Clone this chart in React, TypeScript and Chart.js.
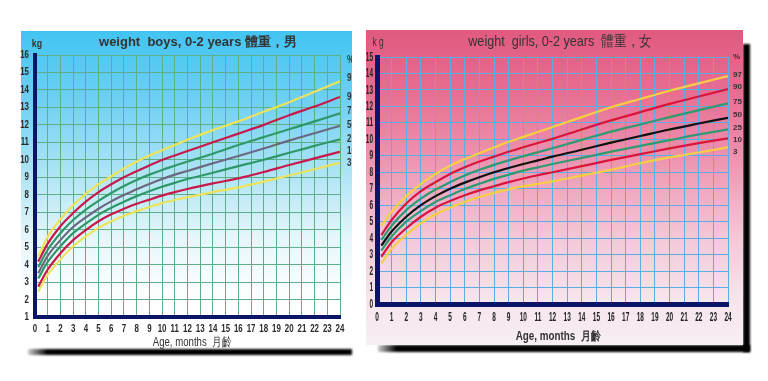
import React, { useEffect, useRef } from "react";
import { Chart, registerables } from "chart.js";

Chart.register(...registerables);

// ---------------- DATA ----------------
const percentileLabels = ["97", "90", "75", "50", "25", "10", "3"];

const boysMonths = [0.25, 1, 2, 3, 4, 5, 6, 7, 8, 9, 10, 11, 12, 14, 16, 18, 20, 22, 24];
const boysP97 = [4.45, 5.6, 6.6, 7.4, 8.05, 8.6, 9.05, 9.5, 9.9, 10.25, 10.55, 10.85, 11.15, 11.7, 12.2, 12.75, 13.3, 13.9, 14.5];
const boysP90 = [4.17, 5.2, 6.2, 6.95, 7.6, 8.15, 8.6, 9.0, 9.35, 9.68, 9.99, 10.25, 10.5, 11.0, 11.5, 12.0, 12.55, 13.05, 13.6];
const boysP75 = [3.85, 4.85, 5.8, 6.55, 7.15, 7.65, 8.1, 8.5, 8.85, 9.15, 9.42, 9.66, 9.9, 10.35, 10.85, 11.3, 11.75, 12.2, 12.66];
const boysP50 = [3.5, 4.5, 5.4, 6.15, 6.7, 7.2, 7.62, 7.98, 8.32, 8.62, 8.9, 9.15, 9.36, 9.8, 10.22, 10.65, 11.1, 11.52, 11.95];
const boysP25 = [3.2, 4.15, 5.05, 5.8, 6.35, 6.85, 7.25, 7.6, 7.92, 8.2, 8.46, 8.68, 8.9, 9.26, 9.64, 10.0, 10.4, 10.8, 11.17];
const boysP10 = [2.74, 3.72, 4.65, 5.4, 5.98, 6.48, 6.88, 7.2, 7.48, 7.72, 7.95, 8.15, 8.33, 8.65, 8.94, 9.3, 9.7, 10.08, 10.46];
const boysP3 = [2.45, 3.42, 4.3, 5.05, 5.62, 6.1, 6.48, 6.8, 7.06, 7.3, 7.52, 7.7, 7.86, 8.15, 8.42, 8.75, 9.1, 9.46, 9.83];

const girlsMonths = [0.3, 1, 2, 3, 4, 5, 6, 7, 8, 9, 10, 11, 12, 14, 16, 18, 20, 22, 24];
const girlsP97 = [4.75, 5.6, 6.55, 7.3, 7.9, 8.4, 8.8, 9.15, 9.5, 9.85, 10.15, 10.45, 10.75, 11.35, 11.95, 12.45, 12.95, 13.4, 13.84];
const girlsP90 = [4.19, 5.1, 6.1, 6.85, 7.4, 7.9, 8.3, 8.65, 8.95, 9.25, 9.52, 9.78, 10.03, 10.6, 11.15, 11.65, 12.15, 12.6, 13.05];
const girlsP75 = [3.89, 4.75, 5.7, 6.4, 6.95, 7.4, 7.8, 8.15, 8.45, 8.72, 8.97, 9.22, 9.46, 9.97, 10.47, 10.9, 11.35, 11.77, 12.18];
const girlsP50 = [3.55, 4.4, 5.3, 6.0, 6.55, 7.0, 7.37, 7.7, 8.0, 8.26, 8.5, 8.72, 8.95, 9.37, 9.8, 10.2, 10.6, 10.96, 11.31];
const girlsP25 = [3.25, 4.1, 5.0, 5.65, 6.2, 6.6, 6.98, 7.3, 7.6, 7.85, 8.1, 8.3, 8.5, 8.87, 9.25, 9.6, 9.95, 10.3, 10.6];
const girlsP10 = [2.87, 3.75, 4.6, 5.3, 5.85, 6.25, 6.6, 6.9, 7.15, 7.4, 7.62, 7.82, 8.0, 8.37, 8.75, 9.1, 9.45, 9.77, 10.06];
const girlsP3 = [2.47, 3.35, 4.2, 4.9, 5.45, 5.85, 6.2, 6.5, 6.75, 6.96, 7.15, 7.3, 7.45, 7.8, 8.15, 8.55, 8.9, 9.2, 9.51];

const boysYTicks = { min: 1, max: 16 };
const girlsYTicks = { min: 0, max: 15 };
const monthTicks = { min: 0, max: 24 };

// ---------------- STYLE ----------------
const SANS = "'Liberation Sans', Arial, sans-serif";
const NAVY = "#0b1466";

type TextSpec = { text: string; font: string; sx: number; x: number; y: number };

type Cfg = {
  months: number[];
  series: number[][];
  colors: string[];
  yRange: { min: number; max: number };
  gridColor: string;
  width: number;
  height: number;
  padTop: number;
  yAxisW: number;
  xAxisH: number;
  padRight: number;
  borderW: number;
  lineW: number;
  tickFont: string;
  tickSx: number;
  tickGapY: number;
  tickGapX: number;
  tickColor: string;
  texts: TextSpec[];
  pctX: number;
  pctFont: string;
  pctSx: number;
  pctOffset: number[];
};

function drawText(ctx: any, text: string, x: number, y: number, font: string, sx: number, align: string) {
  ctx.save();
  ctx.translate(x, y);
  ctx.scale(sx, 1);
  ctx.font = font;
  ctx.textAlign = align;
  ctx.textBaseline = "middle";
  ctx.fillText(text, 0, 0);
  ctx.restore();
}

function GrowthChart({ cfg }: { cfg: Cfg }) {
  const ref = useRef<HTMLCanvasElement | null>(null);
  useEffect(() => {
    if (!ref.current) return;
    const textPlugin = {
      id: "extraText",
      afterDraw(chart: any) {
        const ctx = chart.ctx;
        const ca = chart.chartArea;
        ctx.save();
        ctx.fillStyle = cfg.tickColor;
        const xs = chart.scales.x;
        const ys = chart.scales.y;
        xs.ticks.forEach((t: any) => {
          drawText(ctx, String(t.value), xs.getPixelForValue(t.value), ca.bottom + cfg.tickGapX, cfg.tickFont, cfg.tickSx, "center");
        });
        ys.ticks.forEach((t: any) => {
          drawText(ctx, String(t.value), ca.left - cfg.tickGapY, ys.getPixelForValue(t.value), cfg.tickFont, cfg.tickSx, "right");
        });
        ctx.fillStyle = "#333";
        cfg.texts.forEach((t) => drawText(ctx, t.text, t.x, t.y, t.font, t.sx, "center"));
        let topY = Infinity;
        cfg.series.forEach((s, i) => {
          const py = ys.getPixelForValue(s[s.length - 1]) + (cfg.pctOffset[i] || 0);
          topY = Math.min(topY, py);
          drawText(ctx, percentileLabels[i], cfg.pctX, py, cfg.pctFont, cfg.pctSx, "left");
        });
        drawText(ctx, "%", cfg.pctX, topY - 18, cfg.pctFont, cfg.pctSx, "left");
        ctx.restore();
      },
    };
    const fixY = (scale: any) => {
      scale.width = cfg.yAxisW;
      scale.paddingTop = 0;
      scale.paddingBottom = 0;
      scale.paddingLeft = 0;
      scale.paddingRight = 0;
    };
    const fixX = (scale: any) => {
      scale.height = cfg.xAxisH;
      scale.paddingTop = 0;
      scale.paddingBottom = 0;
      scale.paddingLeft = 0;
      scale.paddingRight = 0;
    };
    const chart = new Chart(ref.current, {
      type: "line",
      data: {
        datasets: cfg.series.map((s, i) => ({
          label: percentileLabels[i],
          data: cfg.months.map((m, j) => ({ x: m, y: s[j] })),
          borderColor: cfg.colors[i],
          borderWidth: cfg.lineW,
          pointRadius: 0,
          fill: false,
          cubicInterpolationMode: "monotone" as const,
        })),
      },
      options: {
        animation: false,
        responsive: false,
        devicePixelRatio: 1,
        layout: {
          autoPadding: false,
          padding: { top: cfg.padTop, left: 0, right: cfg.padRight, bottom: 0 },
        },
        plugins: { legend: { display: false }, tooltip: { enabled: false }, title: { display: false } },
        scales: {
          x: {
            type: "linear",
            min: monthTicks.min,
            max: monthTicks.max,
            afterFit: fixX,
            grid: { color: cfg.gridColor, lineWidth: 1, drawTicks: false },
            border: { display: true, color: NAVY, width: cfg.borderW },
            ticks: { stepSize: 1, autoSkip: false, maxRotation: 0, display: false },
          },
          y: {
            type: "linear",
            min: cfg.yRange.min,
            max: cfg.yRange.max,
            afterFit: fixY,
            grid: { color: cfg.gridColor, lineWidth: 1, drawTicks: false },
            border: { display: true, color: NAVY, width: cfg.borderW },
            ticks: { stepSize: 1, autoSkip: false, display: false },
          },
        },
      },
      plugins: [textPlugin],
    } as any);
    return () => chart.destroy();
  }, [cfg]);
  return (
    <canvas
      ref={ref}
      width={cfg.width}
      height={cfg.height}
      style={{ width: cfg.width, height: cfg.height, display: "block" }}
    />
  );
}

const boysCfg: Cfg = {
  months: boysMonths,
  series: [boysP97, boysP90, boysP75, boysP50, boysP25, boysP10, boysP3],
  colors: ["#ece35a", "#c8184a", "#2f9868", "#6b6880", "#2f9868", "#c8184a", "#ece35a"],
  yRange: boysYTicks,
  gridColor: "#5fae8a",
  width: 338,
  height: 320,
  padTop: 24,
  yAxisW: 21,
  xAxisH: 34,
  padRight: 12,
  borderW: 4,
  lineW: 2.2,
  tickFont: "bold 11px " + SANS,
  tickSx: 0.72,
  tickGapY: 6,
  tickGapX: 12,
  tickColor: "#2a2a2a",
  texts: [
    { text: "weight  boys, 0-2 years 體重，男", font: "bold 13px " + SANS, sx: 1.0, x: 184, y: 11 },
    { text: "kg", font: "bold 11px " + SANS, sx: 0.8, x: 23, y: 13 },
    { text: "Age, months  月齡", font: "12px " + SANS, sx: 0.8, x: 178, y: 312 },
  ],
  pctX: 333,
  pctFont: "bold 10px " + SANS,
  pctSx: 0.8,
  pctOffset: [-3, 0, -2, 0, 0, -1, 0],
};

const girlsCfg: Cfg = {
  months: girlsMonths,
  series: [girlsP97, girlsP90, girlsP75, girlsP50, girlsP25, girlsP10, girlsP3],
  colors: ["#f7cf45", "#d8163c", "#2f9a72", "#111111", "#2f9a72", "#d8163c", "#f7cf45"],
  yRange: girlsYTicks,
  gridColor: "#5aaee2",
  width: 383,
  height: 315,
  padTop: 27,
  yAxisW: 17,
  xAxisH: 41,
  padRight: 15,
  borderW: 5,
  lineW: 2.2,
  tickFont: "bold 13px " + SANS,
  tickSx: 0.5,
  tickGapY: 4,
  tickGapX: 13,
  tickColor: "#222",
  texts: [
    { text: "weight  girls, 0-2 years  體重，女", font: "15px " + SANS, sx: 0.84, x: 200, y: 12 },
    { text: "k g", font: "12px " + SANS, sx: 0.7, x: 18, y: 13 },
    { text: "Age, months  月齡", font: "bold 12px " + SANS, sx: 0.82, x: 198, y: 307 },
  ],
  pctX: 373,
  pctFont: "bold 8px " + SANS,
  pctSx: 1.0,
  pctOffset: [-1, -2, -2, -3, -2, 1, 4],
};

export default function App() {
  return (
    <div
      style={{
        position: "absolute",
        left: 0,
        top: 0,
        width: 768,
        height: 381,
        overflow: "hidden",
        background: "#ffffff",
      }}
    >
      <div
        style={{
          position: "absolute",
          left: 21,
          top: 31,
          width: 331,
          height: 316,
          background:
            "linear-gradient(180deg, #42c4f1 0%, #6ed0f3 22%, #b4e6f6 47%, #e6f6fb 66%, #ffffff 85%)",
        }}
      />
      <div
        style={{
          position: "absolute",
          left: 28,
          top: 349,
          width: 324,
          height: 6,
          background: "linear-gradient(90deg, rgba(0,0,0,0.2) 0%, #000 6%, #000 100%)",
          filter: "blur(1px)",
        }}
      />
      <div
        style={{
          position: "absolute",
          left: 743,
          top: 44,
          width: 7,
          height: 308,
          background: "#000",
          filter: "blur(1px)",
        }}
      />
      <div
        style={{
          position: "absolute",
          left: 378,
          top: 345,
          width: 372,
          height: 7,
          background: "linear-gradient(90deg, rgba(0,0,0,0.2) 0%, #000 5%, #000 100%)",
          filter: "blur(1px)",
        }}
      />
      <div
        style={{
          position: "absolute",
          left: 366,
          top: 30,
          width: 377,
          height: 315,
          background:
            "linear-gradient(180deg, #e15a80 0%, #e76e91 20%, #ed92ae 40%, #f3c6d6 65%, #f6e4ed 85%, #f7eef4 100%)",
        }}
      />
      <div style={{ position: "absolute", left: 14, top: 31 }}>
        <GrowthChart cfg={boysCfg} />
      </div>
      <div style={{ position: "absolute", left: 360, top: 30 }}>
        <GrowthChart cfg={girlsCfg} />
      </div>
    </div>
  );
}
